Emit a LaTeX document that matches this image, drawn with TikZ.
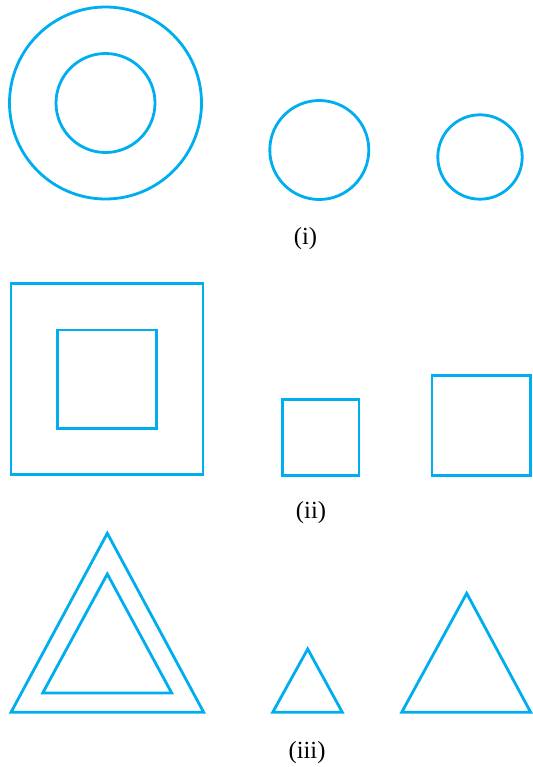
\documentclass[tikz,border=0pt]{standalone}
\usepackage{fontspec}
\setmainfont{Liberation Serif}
\usepackage{tikz}
\usetikzlibrary{positioning}
\definecolor{figblue}{RGB}{0,174,239}

\begin{document}
\begin{tikzpicture}[x=0.03cm,y=-0.03cm,
            outline/.style={draw=figblue,line width=2.4pt,line join=miter},
            caption/.style={font=\fontsize{21}{24}\selectfont}]
            \useasboundingbox (0,0) rectangle (532,767);
            \draw[outline] (105.5,103) circle (96);
            \draw[outline] (105.5,103) circle (49.5);
            \draw[outline] (319.3,150) circle (49.5);
            \draw[outline] (480,157) circle (42.2);
            \node[caption] (I) at (305.5,239) {(i)};

            \draw[outline] (11,283.3) rectangle (203,474.3);
            \draw[outline] (57.7,330) rectangle (156.7,428.3);
            \draw[outline] (282.7,399.3) rectangle (359,475.3);
            \draw[outline] (432,375.7) rectangle (530.3,475.3);
            \node[caption] (II) at (311,512.5) {(ii)};

            \draw[outline] (107.3,533.3) -- (203.7,712.3) -- (11,712.3) -- cycle;
            \draw[outline] (107.3,574) -- (171.7,693) -- (42.7,693) -- cycle;
            \draw[outline] (307.7,649) -- (342.3,712.3) -- (272.7,712.3) -- cycle;
            \draw[outline] (466.7,593.3) -- (530.7,712.3) -- (401.7,712.3) -- cycle;
            \node[caption] (III) at (307,752.5) {(iii)};

          \end{tikzpicture}
\end{document}
